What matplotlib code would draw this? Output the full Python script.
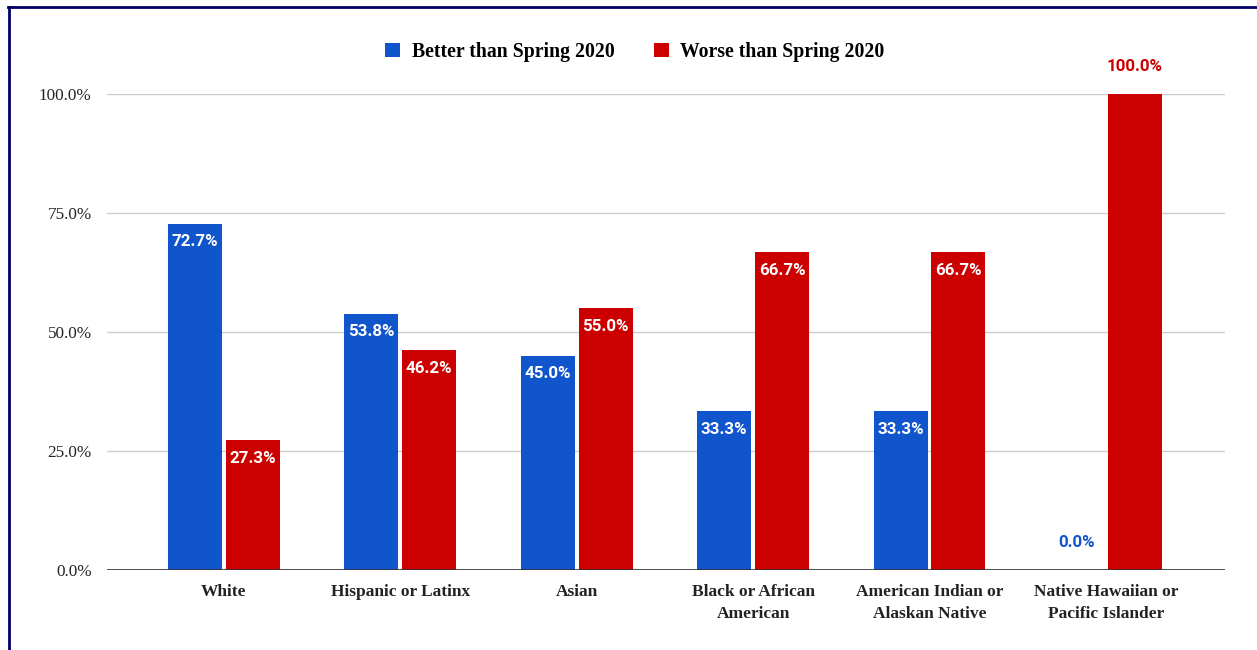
import matplotlib
matplotlib.use("Agg")
import matplotlib.pyplot as plt
from matplotlib.lines import Line2D
from matplotlib.patches import Patch
import numpy as np

groups = ["White", "Hispanic or Latinx", "Asian", "Black or African\nAmerican",
          "American Indian or\nAlaskan Native", "Native Hawaiian or\nPacific Islander"]
better = [72.7, 53.8, 45.0, 33.3, 33.3, 0.0]
worse = [27.3, 46.2, 55.0, 66.7, 66.7, 100.0]
yticks = [0, 25, 50, 75, 100]

BLUE = "#1155cc"
RED = "#cc0000"
SERIF = "Liberation Serif"
SANS = "Roboto"

fig = plt.figure(figsize=(12.57, 6.5), dpi=100)
ax = fig.add_axes([0.0851, 0.1231, 0.8894, 0.7323])

x = np.arange(len(groups))
w = 0.306
off = 0.164
b1 = ax.bar(x - off, better, w, color=BLUE, zorder=3)
b2 = ax.bar(x + off, worse, w, color=RED, zorder=3, clip_on=False)

# value labels inside the bar tops (outside when the bar is empty / full)
for bars, vals, col in ((b1, better, BLUE), (b2, worse, RED)):
    for rect, v in zip(bars, vals):
        cx = rect.get_x() + rect.get_width() / 2
        if v <= 0.5 or v >= 99.5:
            ax.annotate(f"{v:.1f}%", (cx, v), xytext=(0, 20), textcoords="offset points",
                        ha="center", va="center", color=col, fontsize=12.2,
                        fontweight="bold", family=SANS, annotation_clip=False)
        else:
            ax.annotate(f"{v:.1f}%", (cx, v), xytext=(0, -13), textcoords="offset points",
                        ha="center", va="center", color="white", fontsize=12.2,
                        fontweight="bold", family=SANS)

ax.set_xlim(-0.663, 5.675)
ax.set_ylim(0, 100)
ax.set_yticks(yticks)
ax.set_yticklabels([f"{t:.1f}%" for t in yticks], family=SERIF, fontsize=12.3, color="#222222")
ax.set_xticks(x)
ax.set_xticklabels(groups, family=SERIF, fontsize=12.5, fontweight="bold", color="#222222",
                   linespacing=1.5)
ax.tick_params(axis="y", length=0, pad=11)
ax.tick_params(axis="x", length=0, pad=10)
ax.grid(axis="y", color="#cccccc", linewidth=1, zorder=0)
for s in ax.spines.values():
    s.set_visible(False)
ax.axhline(0, color="#333333", linewidth=1.2, zorder=4)

handles = [Patch(facecolor=BLUE, edgecolor="none"), Patch(facecolor=RED, edgecolor="none")]
fig.legend(handles, ["Better than Spring 2020", "Worse than Spring 2020"],
           loc="center", bbox_to_anchor=(0.505, 0.92), ncol=2, frameon=False,
           prop={"family": SERIF, "weight": "bold", "size": 14.2},
           handlelength=0.75, handleheight=0.75, columnspacing=2.0, handletextpad=0.6)

# navy frame at top-left edge of the crop
fig.add_artist(Line2D([8 / 1257, 1], [1 - 6.5 / 650, 1 - 6.5 / 650], color="#000066",
                      linewidth=2, transform=fig.transFigure))
fig.add_artist(Line2D([8.5 / 1257, 8.5 / 1257], [0, 1 - 6.5 / 650], color="#000066",
                      linewidth=2, transform=fig.transFigure))

fig.savefig("out.png", dpi=100)
